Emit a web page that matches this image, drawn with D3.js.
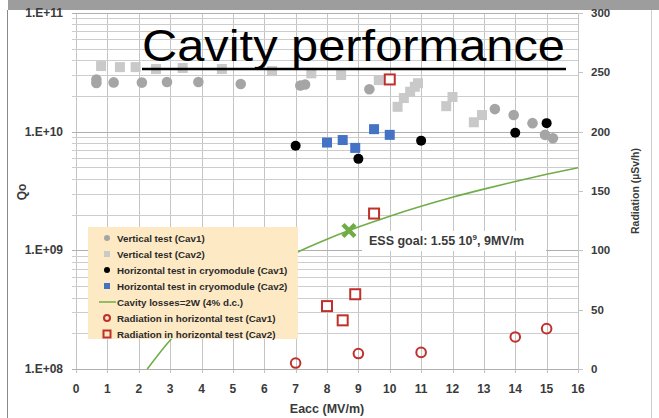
<!DOCTYPE html>
<html>
<head>
<meta charset="utf-8">
<script src="https://cdn.jsdelivr.net/npm/d3@7"></script>
<style>
  html, body { margin: 0; padding: 0; background: #fff; }
  svg text { font-family: "Liberation Sans", Arial, sans-serif; }
</style>
</head>
<body>
<div id="chart_div"></div>
<script>
// chart size (whole slide picture)
var W = 659, H = 418;
var plot = { left: 76, right: 578, top: 13, bottom: 369 };

// vertical test, cavity 1 (grey circles)
var vertCav1E = [0.65, 0.65, 1.2, 2.1, 2.9, 3.9, 5.25, 7.15, 7.3, 9.35, 13.35, 13.95, 14.55, 14.95, 15.2];
var vertCav1Q = [2.75e10, 2.57e10, 2.6e10, 2.59e10, 2.62e10, 2.62e10, 2.52e10, 2.45e10, 2.5e10, 2.28e10, 1.55e10, 1.38e10, 1.18e10, 9.4e9, 8.8e9];

// vertical test, cavity 2 (grey squares)
var vertCav2E = [0.8, 1.4, 1.9, 2.55, 3.4, 4.65, 6.25, 7.5, 8.45, 9.65, 10.25, 10.45, 10.65, 10.8, 10.9, 11.8, 12.0, 12.68, 12.94];
var vertCav2Q = [3.57e10, 3.5e10, 3.5e10, 3.37e10, 3.44e10, 3.37e10, 3.24e10, 3.1e10, 3.0e10, 2.72e10, 1.62e10, 1.92e10, 2.17e10, 2.39e10, 2.56e10, 1.64e10, 1.96e10, 1.2e10, 1.38e10];

// horizontal test in cryomodule
var horCav1E = [7, 9, 11, 14, 15];
var horCav1Q = [7.6e9, 5.9e9, 8.4e9, 9.8e9, 1.18e10];
var horCav2E = [8, 8.5, 8.9, 9.5, 10];
var horCav2Q = [8.1e9, 8.5e9, 7.3e9, 1.05e10, 9.4e9];

// radiation in horizontal test (right axis, uSv/h)
var radCav1E = [7, 9, 11, 14, 15];
var radCav1R = [5, 13, 14, 27, 34];
var radCav2E = [8, 8.5, 8.9, 9.5, 10];
var radCav2R = [53, 41, 63, 131, 244];

// cavity losses = 2W curve
var lossE = [2.27, 3, 4, 5, 6, 7, 8, 9, 10, 11, 12, 13, 14, 15, 16];
var lossQ = [1.0e8, 1.75e8, 3.1e8, 4.85e8, 7.0e8, 9.5e8, 1.24e9, 1.57e9, 1.94e9, 2.35e9, 2.8e9, 3.28e9, 3.8e9, 4.37e9, 4.97e9];

// ESS goal marker
var goalE = [8.7];
var goalQ = [1.47e9];

// tick labels
var xTicks = d3.range(0, 17);
var qTicks = [1e8, 1e9, 1e10, 1e11];
var qTickLabels = ["1.E+08", "1.E+09", "1.E+10", "1.E+11"];
var rTicks = [0, 50, 100, 150, 200, 250, 300];

var legendLabels = [
  "Vertical test (Cav1)",
  "Vertical test (Cav2)",
  "Horizontal test in cryomodule (Cav1)",
  "Horizontal test in cryomodule (Cav2)",
  "Cavity losses=2W (4% d.c.)",
  "Radiation in horizontal test (Cav1)",
  "Radiation in horizontal test (Cav2)"
];

var greyCircle = "#a5a5a5", greySquare = "#c9c9c9", blue = "#4472c4",
    red = "#c0302b", green = "#70ad47", textCol = "#3a3a3a";

var svg = d3
  .select("#chart_div")
  .append("svg")
  .attr("width", W)
  .attr("height", H);

// slide frame: grey bar at top, thin borders
svg.append("rect").attr("x", 8).attr("y", 0).attr("width", W - 8).attr("height", 10).attr("fill", "#9d9d9d");
svg.append("line").attr("x1", 7.5).attr("x2", 7.5).attr("y1", 10).attr("y2", H).attr("stroke", "#8a8a8a");
svg.append("line").attr("x1", 651.5).attr("x2", 651.5).attr("y1", 10).attr("y2", H).attr("stroke", "#cfcfcf");

// scales
var x = d3.scaleLinear().domain([0, 16]).range([plot.left, plot.right]);
var yQ = d3.scaleLog().domain([1e8, 1e11]).range([plot.bottom, plot.top]);
var yR = d3.scaleLinear().domain([0, 300]).range([plot.bottom, plot.top]);

// gridlines
var grid = svg.append("g").attr("stroke", "#c4c4c4").attr("stroke-width", 1);
grid.selectAll("line.v")
  .data(xTicks)
  .enter()
  .append("line")
  .attr("x1", function(d) { return Math.round(x(d)) + 0.5; })
  .attr("x2", function(d) { return Math.round(x(d)) + 0.5; })
  .attr("y1", plot.top)
  .attr("y2", plot.bottom + 4);
grid.selectAll("line.h")
  .data(yQ.ticks())
  .enter()
  .append("line")
  .attr("x1", plot.left - 4)
  .attr("x2", plot.right)
  .attr("y1", function(d) { return Math.round(yQ(d)) + 0.5; })
  .attr("y2", function(d) { return Math.round(yQ(d)) + 0.5; })
  .attr("stroke", function(d) { return qTicks.indexOf(d) >= 0 ? "#b0b0b0" : "#cdcdcd"; });

// right axis ticks
grid.selectAll("line.r")
  .data(rTicks)
  .enter()
  .append("line")
  .attr("x1", plot.right)
  .attr("x2", plot.right + 5)
  .attr("y1", function(d) { return Math.round(yR(d)) + 0.5; })
  .attr("y2", function(d) { return Math.round(yR(d)) + 0.5; });

// tick labels
svg.append("g")
  .selectAll("text")
  .data(qTicks)
  .enter()
  .append("text")
  .attr("x", 63)
  .attr("y", function(d) { return yQ(d) + 4; })
  .attr("text-anchor", "end")
  .attr("font-size", "12px")
  .attr("font-weight", "bold")
  .attr("fill", textCol)
  .text(function(d, i) { return qTickLabels[i]; });

svg.append("g")
  .selectAll("text")
  .data(xTicks)
  .enter()
  .append("text")
  .attr("x", function(d) { return x(d); })
  .attr("y", 393)
  .attr("text-anchor", "middle")
  .attr("font-size", "12px")
  .attr("font-weight", "bold")
  .attr("fill", textCol)
  .text(function(d) { return d; });

svg.append("g")
  .selectAll("text")
  .data(rTicks)
  .enter()
  .append("text")
  .attr("x", 591)
  .attr("y", function(d) { return yR(d) + 4; })
  .attr("font-size", "11.5px")
  .attr("font-weight", "bold")
  .attr("fill", textCol)
  .text(function(d) { return d; });

// axis titles
svg.append("text")
  .attr("x", 327).attr("y", 413)
  .attr("text-anchor", "middle")
  .attr("font-size", "12.5px").attr("font-weight", "bold").attr("fill", textCol)
  .text("Eacc (MV/m)");
svg.append("text")
  .attr("transform", "translate(26,192) rotate(-90)")
  .attr("text-anchor", "middle")
  .attr("font-size", "12px").attr("font-weight", "bold").attr("fill", textCol)
  .text("Qo");
svg.append("text")
  .attr("transform", "translate(639,191) rotate(-90)")
  .attr("text-anchor", "middle")
  .attr("font-size", "10.5px").attr("font-weight", "bold").attr("fill", textCol)
  .text("Radiation  (\u00b5Sv/h)");

// cavity losses curve
var lossLine = d3.line()
  .x(function(d, i) { return x(lossE[i]); })
  .y(function(d) { return yQ(d); })
  .curve(d3.curveMonotoneX);
svg.append("path")
  .attr("d", lossLine(lossQ))
  .attr("fill", "none")
  .attr("stroke", green)
  .attr("stroke-width", 1.6);

// legend box (covers the lower part of the curve)
var lg = svg.append("g");
lg.append("rect")
  .attr("x", 88).attr("y", 227).attr("width", 210).attr("height", 112)
  .attr("fill", "#fde9c4");
var rowY = function(i) { return 238 + i * 16; };
lg.selectAll("text")
  .data(legendLabels)
  .enter()
  .append("text")
  .attr("x", 117)
  .attr("y", function(d, i) { return rowY(i) + 3.5; })
  .attr("font-size", "9.8px")
  .attr("font-weight", "bold")
  .attr("fill", "#2b2b2b")
  .text(function(d) { return d; });
lg.append("circle").attr("cx", 107).attr("cy", rowY(0)).attr("r", 3).attr("fill", greyCircle);
lg.append("rect").attr("x", 104).attr("y", rowY(1) - 3).attr("width", 6).attr("height", 6).attr("fill", greySquare);
lg.append("circle").attr("cx", 107).attr("cy", rowY(2)).attr("r", 3).attr("fill", "#000");
lg.append("rect").attr("x", 104).attr("y", rowY(3) - 3).attr("width", 6).attr("height", 6).attr("fill", blue);
lg.append("line").attr("x1", 99).attr("x2", 116).attr("y1", rowY(4)).attr("y2", rowY(4)).attr("stroke", green).attr("stroke-width", 1.5);
lg.append("circle").attr("cx", 107).attr("cy", rowY(5)).attr("r", 3).attr("fill", "none").attr("stroke", red).attr("stroke-width", 2);
lg.append("rect").attr("x", 103.5).attr("y", rowY(6) - 3.5).attr("width", 7).attr("height", 7).attr("fill", "none").attr("stroke", red).attr("stroke-width", 2);

// ESS goal label
svg.append("rect").attr("x", 362).attr("y", 231).attr("width", 184).attr("height", 20).attr("fill", "#fff");
var goalText = svg.append("text")
  .attr("x", 369).attr("y", 245)
  .attr("font-size", "12.5px").attr("font-weight", "bold").attr("fill", textCol);
goalText.append("tspan").text("ESS goal: 1.55 10");
goalText.append("tspan").attr("font-size", "8px").attr("dy", -5).text("9");
goalText.append("tspan").attr("dy", 5).text(", 9MV/m");

// vertical test markers
svg.append("g")
  .selectAll("rect")
  .data(vertCav2Q)
  .enter()
  .append("rect")
  .attr("x", function(d, i) { return x(vertCav2E[i]) - 5; })
  .attr("y", function(d) { return yQ(d) - 5; })
  .attr("width", 10).attr("height", 10)
  .attr("fill", greySquare);

svg.append("g")
  .selectAll("circle")
  .data(vertCav1Q)
  .enter()
  .append("circle")
  .attr("cx", function(d, i) { return x(vertCav1E[i]); })
  .attr("cy", function(d) { return yQ(d); })
  .attr("r", 5.3)
  .attr("fill", greyCircle);

// horizontal test markers
svg.append("g")
  .selectAll("rect")
  .data(horCav2Q)
  .enter()
  .append("rect")
  .attr("x", function(d, i) { return x(horCav2E[i]) - 5; })
  .attr("y", function(d) { return yQ(d) - 5; })
  .attr("width", 10).attr("height", 10)
  .attr("fill", blue);

svg.append("g")
  .selectAll("circle")
  .data(horCav1Q)
  .enter()
  .append("circle")
  .attr("cx", function(d, i) { return x(horCav1E[i]); })
  .attr("cy", function(d) { return yQ(d); })
  .attr("r", 5)
  .attr("fill", "#000");

// radiation markers
svg.append("g")
  .selectAll("circle")
  .data(radCav1R)
  .enter()
  .append("circle")
  .attr("cx", function(d, i) { return x(radCav1E[i]); })
  .attr("cy", function(d) { return yR(d); })
  .attr("r", 4.8)
  .attr("fill", "none")
  .attr("stroke", red)
  .attr("stroke-width", 2);

svg.append("g")
  .selectAll("rect")
  .data(radCav2R)
  .enter()
  .append("rect")
  .attr("x", function(d, i) { return x(radCav2E[i]) - 5; })
  .attr("y", function(d) { return yR(d) - 5; })
  .attr("width", 10).attr("height", 10)
  .attr("fill", "#fff")
  .attr("stroke", red)
  .attr("stroke-width", 2);

// ESS goal cross
svg.append("g")
  .selectAll("path")
  .data(goalQ)
  .enter()
  .append("path")
  .attr("transform", function(d, i) { return "translate(" + x(goalE[i]) + "," + yQ(d) + ")"; })
  .attr("d", "M-6,-6L6,6M-6,6L6,-6")
  .attr("stroke", green)
  .attr("stroke-width", 4.5);

// title
svg.append("text")
  .attr("x", 142).attr("y", 61)
  .attr("font-family", "'Open Sans', sans-serif")
  .attr("font-size", "44px")
  .attr("textLength", 423)
  .attr("lengthAdjust", "spacingAndGlyphs")
  .attr("fill", "#000")
  .text("Cavity performance");
svg.append("line")
  .attr("x1", 142).attr("x2", 566).attr("y1", 69).attr("y2", 69)
  .attr("stroke", "#000").attr("stroke-width", 2.5);
</script>
</body>
</html>
